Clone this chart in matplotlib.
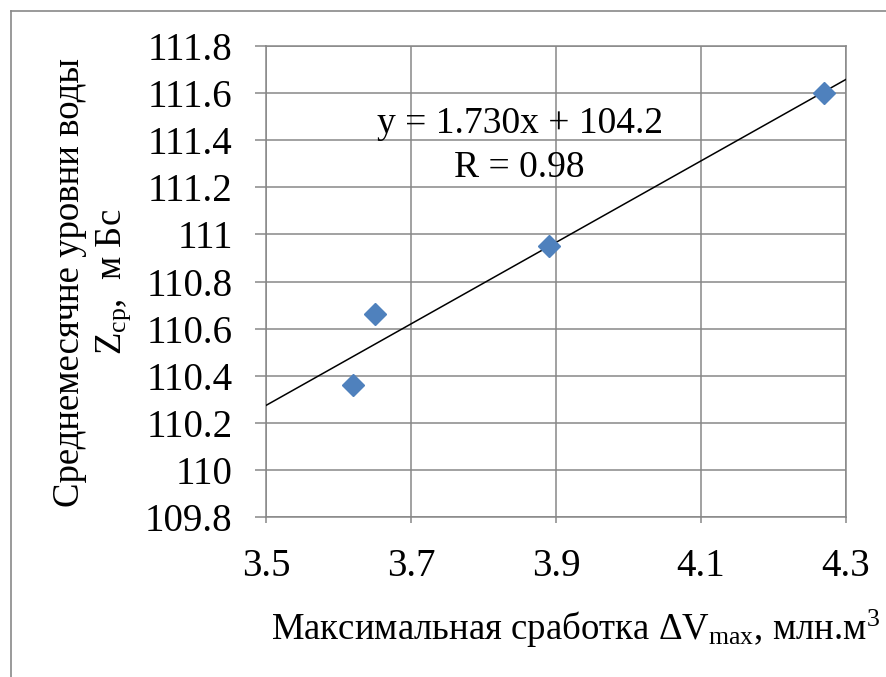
import numpy as np
import matplotlib
matplotlib.use("Agg")
import matplotlib.pyplot as plt
from matplotlib.lines import Line2D
from matplotlib import font_manager as fm

SERIF_PATH = fm.findfont(fm.FontProperties(family='Liberation Serif'))
plt.rcParams['mathtext.fontset'] = 'custom'
plt.rcParams['mathtext.rm'] = 'Liberation Serif'
plt.rcParams['mathtext.it'] = 'Liberation Serif:italic'
plt.rcParams['mathtext.bf'] = 'Liberation Serif:bold'


def fp(size):
    return fm.FontProperties(fname=SERIF_PATH, size=size)


# Data
dv_max = [3.62, 3.65, 3.89, 4.27]
z_mean = [110.36, 110.66, 110.95, 111.60]
x_ticks = [3.5, 3.7, 3.9, 4.1, 4.3]
y_ticks = [109.8, 110.0, 110.2, 110.4, 110.6, 110.8, 111.0, 111.2, 111.4, 111.6, 111.8]
y_tick_labels = ['109.8', '110', '110.2', '110.4', '110.6', '110.8', '111', '111.2', '111.4', '111.6', '111.8']
x_tick_labels = ['3.5', '3.7', '3.9', '4.1', '4.3']
eq_text = 'y = 1.730x + 104.2'
r_text = 'R = 0.98'

W, H = 886, 677
fig = plt.figure(figsize=(W / 100, H / 100), dpi=100)
ax = fig.add_axes([266 / W, 1 - 517 / H, (846 - 266) / W, (517 - 46) / H])

grid_c = '#878787'
ax.set_xlim(3.5, 4.3)
ax.set_ylim(109.8, 111.8)
ax.set_xticks(x_ticks)
ax.set_xticklabels(x_tick_labels)
ax.set_yticks(y_ticks)
ax.set_yticklabels(y_tick_labels)
ax.grid(True, color=grid_c, linewidth=1.1)
ax.set_axisbelow(True)
for s in ax.spines.values():
    s.set_color(grid_c)
    s.set_linewidth(1.1)
ax.tick_params(axis='both', colors=grid_c, length=8, width=1.1,
               labelcolor='black', direction='out')
ax.tick_params(axis='y', pad=16)
ax.tick_params(axis='x', pad=18, length=4)
for lbl in ax.get_xticklabels() + ax.get_yticklabels():
    lbl.set_fontproperties(fp(28))

# trend line from a least-squares fit of the data
k, b = np.polyfit(dv_max, z_mean, 1)
xl = np.array([3.5, 4.3])
ax.plot(xl, k * xl + b, color='black', linewidth=1.1, zorder=3)

ax.plot(dv_max, z_mean, linestyle='none', marker='D', markersize=11,
        color='#4F81BD', markeredgecolor='#4F81BD', zorder=4)

ax.text(3.85, 111.431, eq_text, ha='center', va='baseline', fontproperties=fp(27))
ax.text(3.85, 111.244, r_text, ha='center', va='baseline', fontproperties=fp(27))

fig.text(575 / W, 1 - 640 / H,
         r'Максимальная сработка $\Delta\mathrm{V}_{\mathrm{max}}$, млн.м$^{3}$',
         ha='center', va='baseline', fontproperties=fp(26.5))
fig.text(70 / W, 1 - 282 / H, 'Среднемесячне уровни воды',
         rotation=90, ha='center', va='center', fontproperties=fp(26.5))
fig.text(114 / W, 1 - 282 / H, r'$\mathrm{Z}_{\mathrm{ср}}$,  м Бс',
         rotation=90, ha='center', va='center', fontproperties=fp(26.5))

# outer frame (left and top edges visible)
fig.add_artist(Line2D([11 / W, 11 / W], [0, 1 - 11 / H], transform=fig.transFigure,
                      color='#898989', linewidth=1.2))
fig.add_artist(Line2D([11 / W, 1], [1 - 11 / H, 1 - 11 / H], transform=fig.transFigure,
                      color='#898989', linewidth=1.2))

fig.savefig('out.png', dpi=100)
